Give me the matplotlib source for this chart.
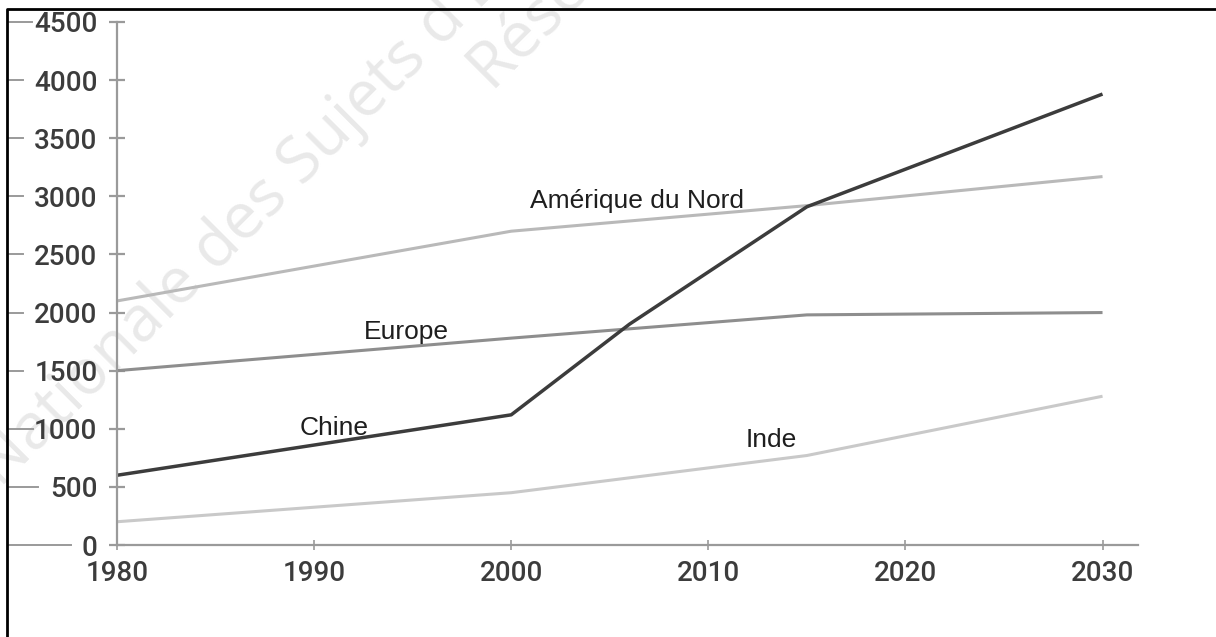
import matplotlib
matplotlib.use("Agg")
import matplotlib.pyplot as plt
from matplotlib.lines import Line2D
from matplotlib.transforms import blended_transform_factory

# values
chine_years = [1980, 2000, 2006, 2015, 2030]
chine = [600, 1120, 1900, 2910, 3880]

amerique_years = [1980, 2000, 2015, 2030]
amerique = [2100, 2700, 2920, 3170]

europe_years = [1980, 2000, 2015, 2030]
europe = [1500, 1780, 1980, 2000]

inde_years = [1980, 2000, 2015, 2030]
inde = [200, 450, 770, 1280]

x_ticks = [1980, 1990, 2000, 2010, 2020, 2030]
y_ticks = [0, 500, 1000, 1500, 2000, 2500, 3000, 3500, 4000, 4500]

labels = {
    "Amérique du Nord": (2006.4, 2960),
    "Europe": (1994.7, 1830),
    "Chine": (1991.0, 1010),
    "Inde": (2013.2, 905),
}

W, H = 1216, 637
fig = plt.figure(figsize=(W / 100, H / 100), dpi=100)
ax = fig.add_axes([117 / W, 1 - 545 / H, (1138 - 117) / W, (545 - 22) / H])
ax.set_zorder(1)

# faint watermark behind everything
wm = dict(rotation=45, rotation_mode="anchor", fontsize=46, color="#e9e9e9",
          family="Open Sans", ha="left", va="baseline", zorder=0)
fig.text(0 / W, 1 - 488 / H, "Nationale des Sujets d'Examens", **wm)
fig.text(492 / W, 1 - 92 / H, "Réseau Canopé", **wm)

ax.patch.set_alpha(0)
ax.plot(amerique_years, amerique, color="#b9b9b9", lw=2.2, solid_capstyle="butt")
ax.plot(europe_years, europe, color="#8e8e8e", lw=2.2, solid_capstyle="butt")
ax.plot(inde_years, inde, color="#c9c9c9", lw=2.2, solid_capstyle="butt")
ax.plot(chine_years, chine, color="#3c3c3c", lw=2.5, solid_capstyle="butt")

for name, (lx, ly) in labels.items():
    ax.text(lx, ly, name, fontsize=19, family="Liberation Sans",
            color="#1e1e1e", ha="center", va="center")

ax.set_xlim(1980, 2031.8)
ax.set_ylim(0, 4500)
ax.set_xticks(x_ticks)
ax.set_yticks(y_ticks)

for side in ["top", "right"]:
    ax.spines[side].set_visible(False)
for side in ["left", "bottom"]:
    ax.spines[side].set_color("#9a9a9a")
    ax.spines[side].set_linewidth(1.6)

ax.tick_params(axis="y", direction="inout", length=12, width=1.6,
               color="#9a9a9a", pad=8, labelsize=20, labelcolor="#3c3c3c")
ax.tick_params(axis="x", direction="inout", length=7, width=1.2,
               color="#9a9a9a", pad=7, labelsize=20, labelcolor="#3c3c3c")
for lab in ax.get_xticklabels() + ax.get_yticklabels():
    lab.set_family("Roboto")
    lab.set_weight("medium")

# short dashes left of the y labels, as in the scan
dash_end = {0: 71, 500: 38, 1000: 33, 4500: 32}
tr = blended_transform_factory(fig.transFigure, ax.transData)
for v in y_ticks:
    fig.add_artist(Line2D([8 / W, dash_end.get(v, 23) / W], [v, v], transform=tr,
                          color="#9a9a9a", lw=1.4))

# frame on top and left of the page
fig.add_artist(Line2D([7 / W, 7 / W, 1.0], [0.0, 1 - 9 / H, 1 - 9 / H],
                      transform=fig.transFigure, color="black", lw=2))

fig.savefig("out.png", dpi=100)
